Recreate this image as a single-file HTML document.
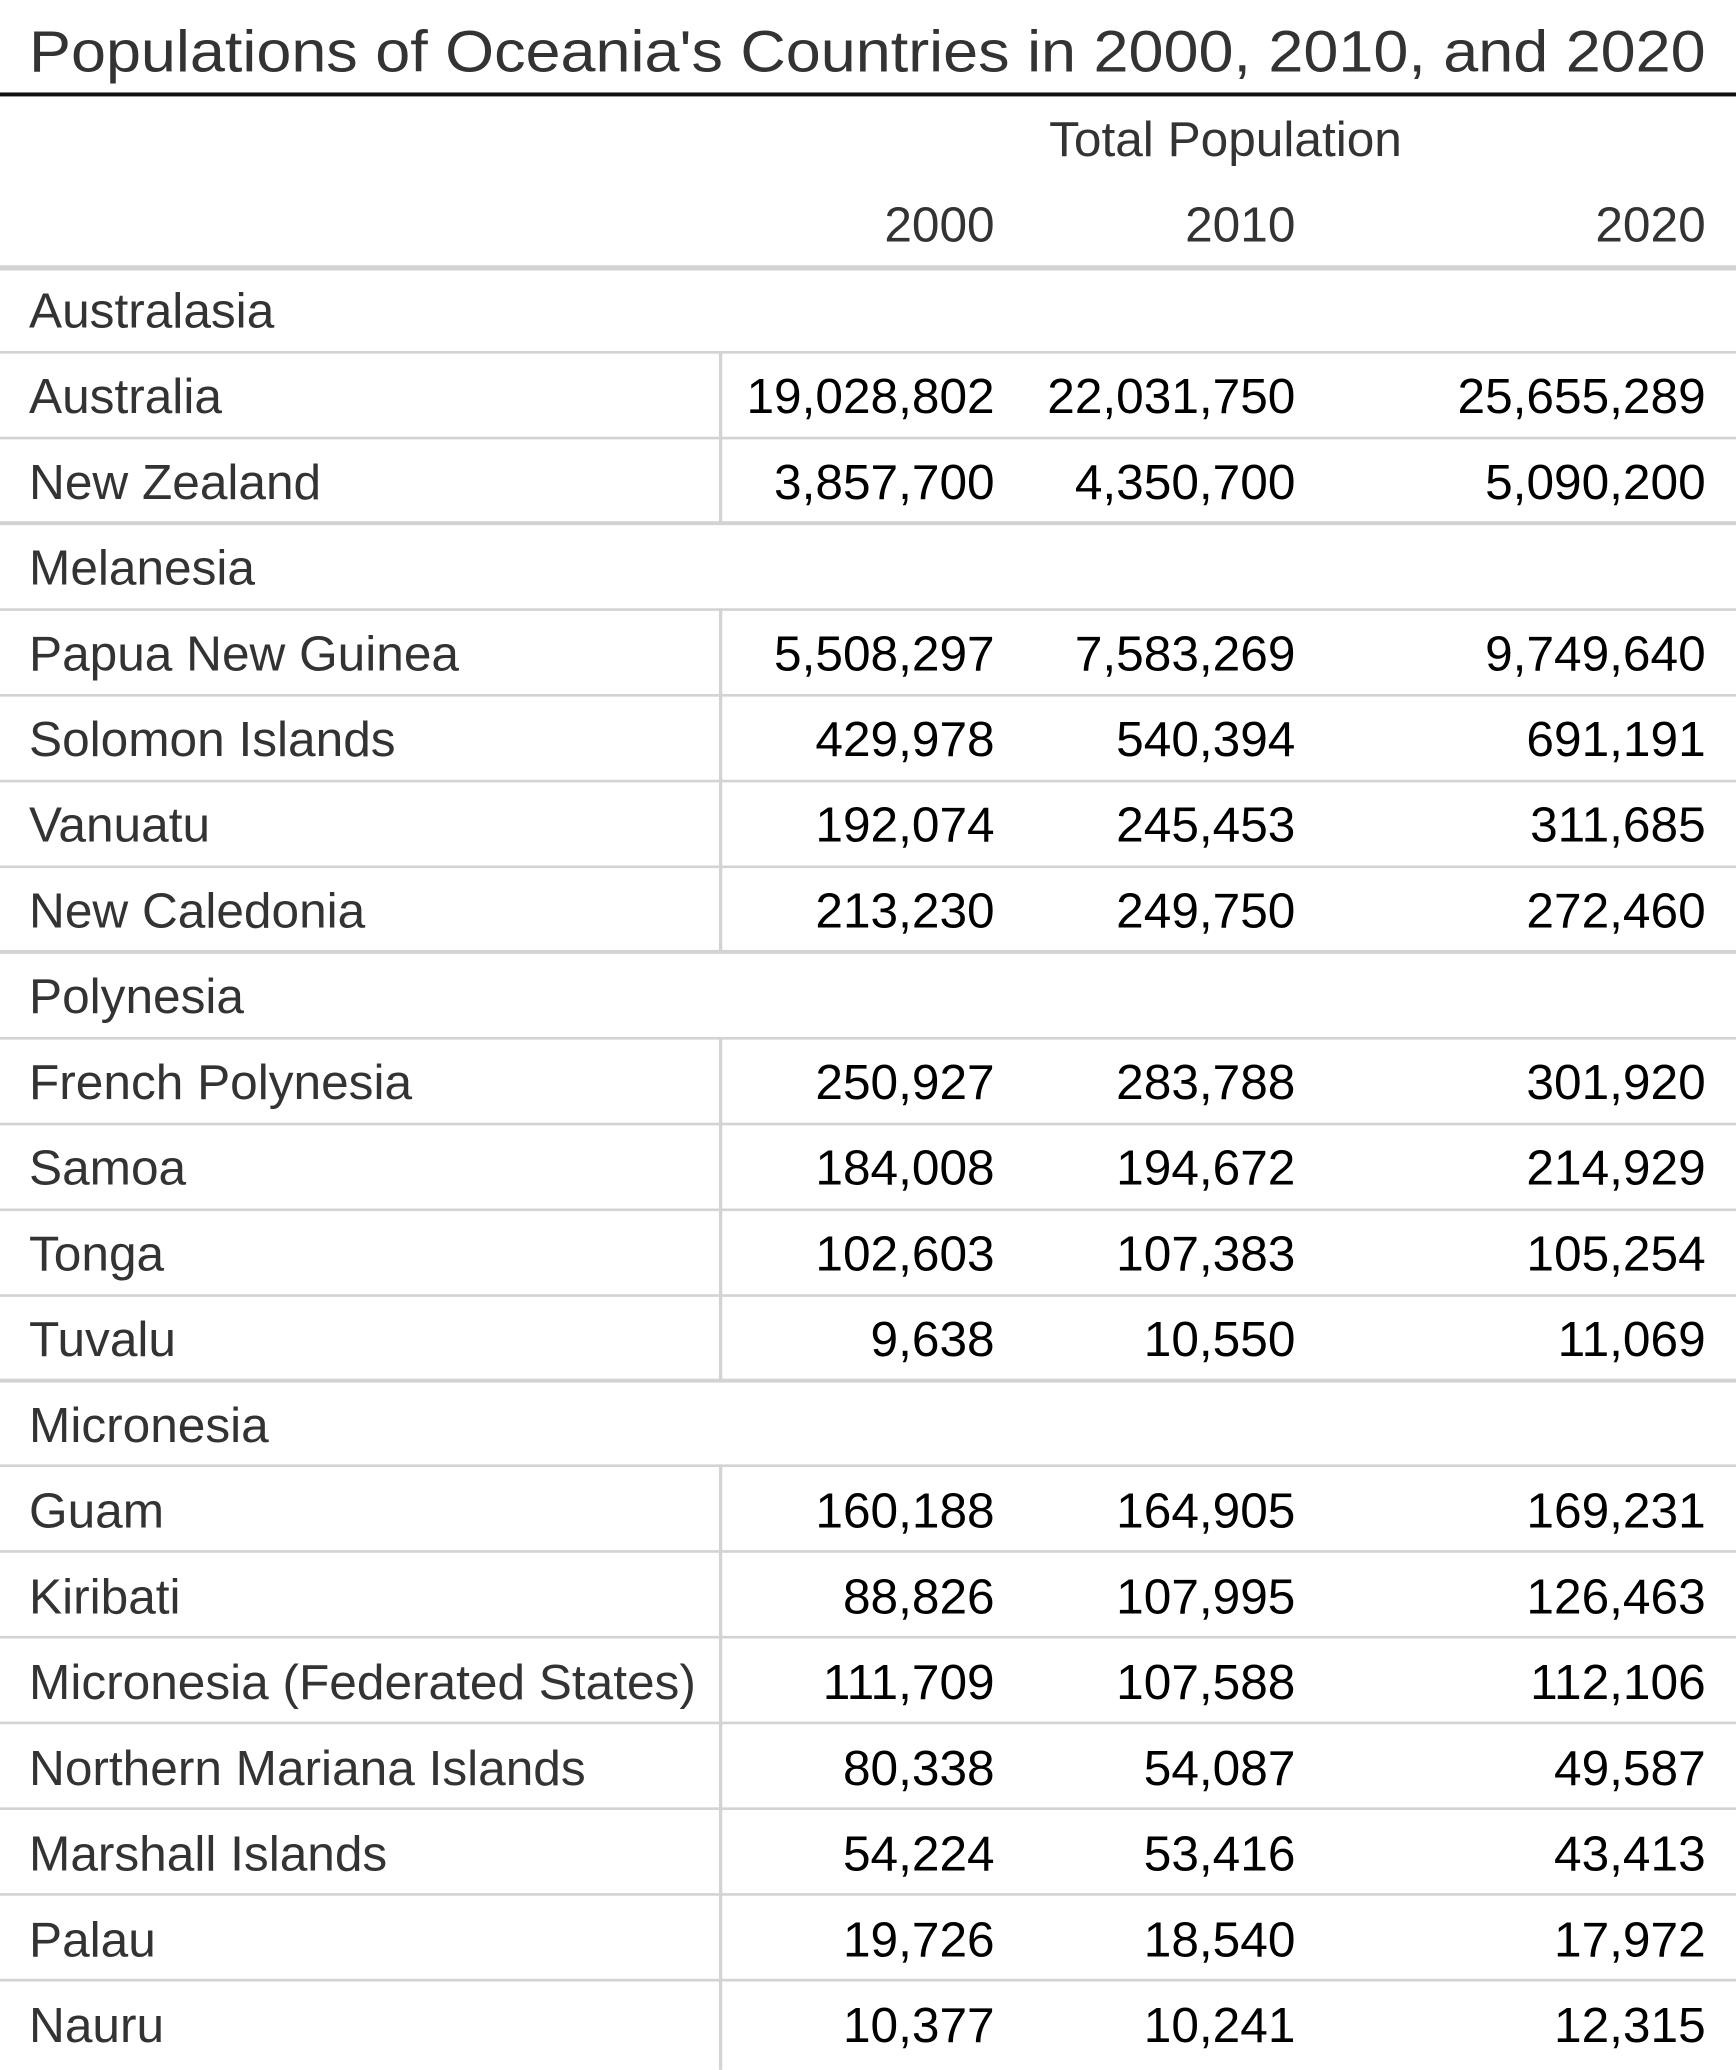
<!DOCTYPE html>
<html><head><meta charset="utf-8"><style>
html,body{margin:0;padding:0;background:#fff;}
svg{display:block;}
text{font-family:"Liberation Sans",Arial,sans-serif;}
.l{fill:#333;font-size:37.6px;}
.n{fill:#000;font-size:37.6px;text-anchor:end;}
</style></head><body>
<svg width="1736" height="2070" viewBox="0 0 1316 1569" xmlns="http://www.w3.org/2000/svg">
<text x="22" y="54" font-size="44" fill="#333" textLength="1271" lengthAdjust="spacingAndGlyphs">Populations of Oceania's Countries in 2000, 2010, and 2020</text>
<rect x="0" y="70" width="1316" height="3" fill="#111"/>
<text x="929" y="118" font-size="37.6" fill="#333" text-anchor="middle">Total Population</text>
<text x="754" y="183" class="n" style="fill:#333">2000</text>
<text x="982" y="183" class="n" style="fill:#333">2010</text>
<text x="1293" y="183" class="n" style="fill:#333">2020</text>
<rect x="0" y="201" width="1316" height="4" fill="#d3d3d3"/>
<g>
<text x="22" y="248" class="l">Australasia</text>
<rect x="0" y="266" width="1316" height="2" fill="#d3d3d3"/>
<text x="22" y="313" class="l">Australia</text><text x="754" y="313" class="n">19,028,802</text><text x="982" y="313" class="n">22,031,750</text><text x="1293" y="313" class="n">25,655,289</text>
<rect x="0" y="331" width="1316" height="2" fill="#d3d3d3"/>
<text x="22" y="378" class="l">New Zealand</text><text x="754" y="378" class="n">3,857,700</text><text x="982" y="378" class="n">4,350,700</text><text x="1293" y="378" class="n">5,090,200</text>
<rect x="0" y="395" width="1316" height="3" fill="#d3d3d3"/>
<rect x="545" y="266" width="2.5" height="131" fill="#d3d3d3"/>

<text x="22" y="443" class="l">Melanesia</text>
<rect x="0" y="461" width="1316" height="2" fill="#d3d3d3"/>
<text x="22" y="508" class="l">Papua New Guinea</text><text x="754" y="508" class="n">5,508,297</text><text x="982" y="508" class="n">7,583,269</text><text x="1293" y="508" class="n">9,749,640</text>
<rect x="0" y="526" width="1316" height="2" fill="#d3d3d3"/>
<text x="22" y="573" class="l">Solomon Islands</text><text x="754" y="573" class="n">429,978</text><text x="982" y="573" class="n">540,394</text><text x="1293" y="573" class="n">691,191</text>
<rect x="0" y="591" width="1316" height="2" fill="#d3d3d3"/>
<text x="22" y="638" class="l">Vanuatu</text><text x="754" y="638" class="n">192,074</text><text x="982" y="638" class="n">245,453</text><text x="1293" y="638" class="n">311,685</text>
<rect x="0" y="656" width="1316" height="2" fill="#d3d3d3"/>
<text x="22" y="703" class="l">New Caledonia</text><text x="754" y="703" class="n">213,230</text><text x="982" y="703" class="n">249,750</text><text x="1293" y="703" class="n">272,460</text>
<rect x="0" y="720" width="1316" height="3" fill="#d3d3d3"/>
<rect x="545" y="461" width="2.5" height="261" fill="#d3d3d3"/>

<text x="22" y="768" class="l">Polynesia</text>
<rect x="0" y="786" width="1316" height="2" fill="#d3d3d3"/>
<text x="22" y="833" class="l">French Polynesia</text><text x="754" y="833" class="n">250,927</text><text x="982" y="833" class="n">283,788</text><text x="1293" y="833" class="n">301,920</text>
<rect x="0" y="851" width="1316" height="2" fill="#d3d3d3"/>
<text x="22" y="898" class="l">Samoa</text><text x="754" y="898" class="n">184,008</text><text x="982" y="898" class="n">194,672</text><text x="1293" y="898" class="n">214,929</text>
<rect x="0" y="916" width="1316" height="2" fill="#d3d3d3"/>
<text x="22" y="963" class="l">Tonga</text><text x="754" y="963" class="n">102,603</text><text x="982" y="963" class="n">107,383</text><text x="1293" y="963" class="n">105,254</text>
<rect x="0" y="981" width="1316" height="2" fill="#d3d3d3"/>
<text x="22" y="1028" class="l">Tuvalu</text><text x="754" y="1028" class="n">9,638</text><text x="982" y="1028" class="n">10,550</text><text x="1293" y="1028" class="n">11,069</text>
<rect x="0" y="1045" width="1316" height="3" fill="#d3d3d3"/>
<rect x="545" y="786" width="2.5" height="261" fill="#d3d3d3"/>

<text x="22" y="1093" class="l">Micronesia</text>
<rect x="0" y="1110" width="1316" height="2" fill="#d3d3d3"/>
<text x="22" y="1158" class="l">Guam</text><text x="754" y="1158" class="n">160,188</text><text x="982" y="1158" class="n">164,905</text><text x="1293" y="1158" class="n">169,231</text>
<rect x="0" y="1175" width="1316" height="2" fill="#d3d3d3"/>
<text x="22" y="1223" class="l">Kiribati</text><text x="754" y="1223" class="n">88,826</text><text x="982" y="1223" class="n">107,995</text><text x="1293" y="1223" class="n">126,463</text>
<rect x="0" y="1240" width="1316" height="2" fill="#d3d3d3"/>
<text x="22" y="1288" class="l">Micronesia (Federated States)</text><text x="754" y="1288" class="n">111,709</text><text x="982" y="1288" class="n">107,588</text><text x="1293" y="1288" class="n">112,106</text>
<rect x="0" y="1305" width="1316" height="2" fill="#d3d3d3"/>
<text x="22" y="1353" class="l">Northern Mariana Islands</text><text x="754" y="1353" class="n">80,338</text><text x="982" y="1353" class="n">54,087</text><text x="1293" y="1353" class="n">49,587</text>
<rect x="0" y="1370" width="1316" height="2" fill="#d3d3d3"/>
<text x="22" y="1418" class="l">Marshall Islands</text><text x="754" y="1418" class="n">54,224</text><text x="982" y="1418" class="n">53,416</text><text x="1293" y="1418" class="n">43,413</text>
<rect x="0" y="1435" width="1316" height="2" fill="#d3d3d3"/>
<text x="22" y="1483" class="l">Palau</text><text x="754" y="1483" class="n">19,726</text><text x="982" y="1483" class="n">18,540</text><text x="1293" y="1483" class="n">17,972</text>
<rect x="0" y="1500" width="1316" height="2" fill="#d3d3d3"/>
<text x="22" y="1548" class="l">Nauru</text><text x="754" y="1548" class="n">10,377</text><text x="982" y="1548" class="n">10,241</text><text x="1293" y="1548" class="n">12,315</text>
<rect x="545" y="1110" width="2.5" height="459" fill="#d3d3d3"/>
</g>
</svg>
</body></html>
